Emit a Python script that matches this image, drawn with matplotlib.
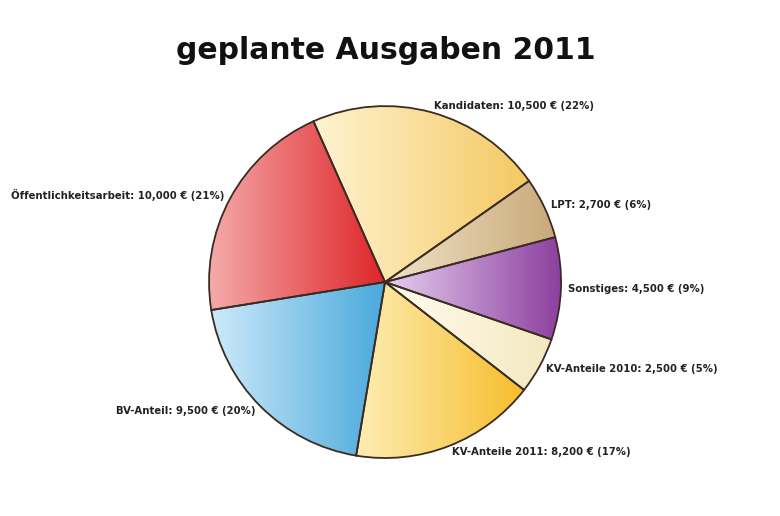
import numpy as np
import matplotlib
matplotlib.use("Agg")
import matplotlib.pyplot as plt
from matplotlib.colors import LinearSegmentedColormap

title = "geplante Ausgaben 2011"
categories = ["Kandidaten", "LPT", "Sonstiges", "KV-Anteile 2010", "KV-Anteile 2011",
              "BV-Anteil", "Öffentlichkeitsarbeit"]
values = [10500, 2700, 4500, 2500, 8200, 9500, 10000]
light_colors = ["#fff3d2", "#efe3c6", "#e6cff0", "#fffdf0", "#fdeeb4", "#cdeafa", "#f5aaaa"]
dark_colors = ["#f5c862", "#c9a97a", "#8c3f9e", "#f4e8c0", "#f7bd2c", "#4aa9dc", "#de2428"]

total = sum(values)
labels = [f"{c}: {v:,} € ({round(100 * v / total)}%)" for c, v in zip(categories, values)]

fig = plt.figure(figsize=(7.8, 5.16), dpi=100)
fig.patch.set_facecolor("white")
ax = fig.add_axes([0.268, 0.1124, 0.4513, 0.682])
ax.set_xlim(-1, 1)
ax.set_ylim(-1, 1)
ax.set_aspect("equal")
ax.axis("off")

wedges, texts = ax.pie(values, labels=labels, startangle=114, counterclock=False,
                       radius=1.0, labeldistance=1.04, frame=False,
                       colors=dark_colors,
                       wedgeprops=dict(edgecolor="#3a2c22", linewidth=1.3),
                       textprops=dict(fontsize=7.3, fontweight="bold", color="#222222"))
ax.set_xlim(-1, 1)
ax.set_ylim(-1, 1)

# horizontal gradient fill per wedge
for w, lc, dc in zip(wedges, light_colors, dark_colors):
    ext = w.get_path().get_extents()
    cmap = LinearSegmentedColormap.from_list("g", [lc, dc])
    grad = np.linspace(0, 1, 256).reshape(1, -1)
    im = ax.imshow(grad, cmap=cmap, aspect="auto",
                   extent=[ext.x0, ext.x1, ext.y0, ext.y1], zorder=w.get_zorder(),
                   interpolation="bicubic")
    im.set_clip_path(w)
    w.set_facecolor("none")
    w.set_zorder(w.get_zorder() + 0.5)

ax.set_xlim(-1, 1)
ax.set_ylim(-1, 1)

fig.text(0.494, 0.903, title, ha="center", va="center", fontsize=21.5,
         fontweight="bold", color="#111111")

fig.savefig("out.png", dpi=100, facecolor="white")
